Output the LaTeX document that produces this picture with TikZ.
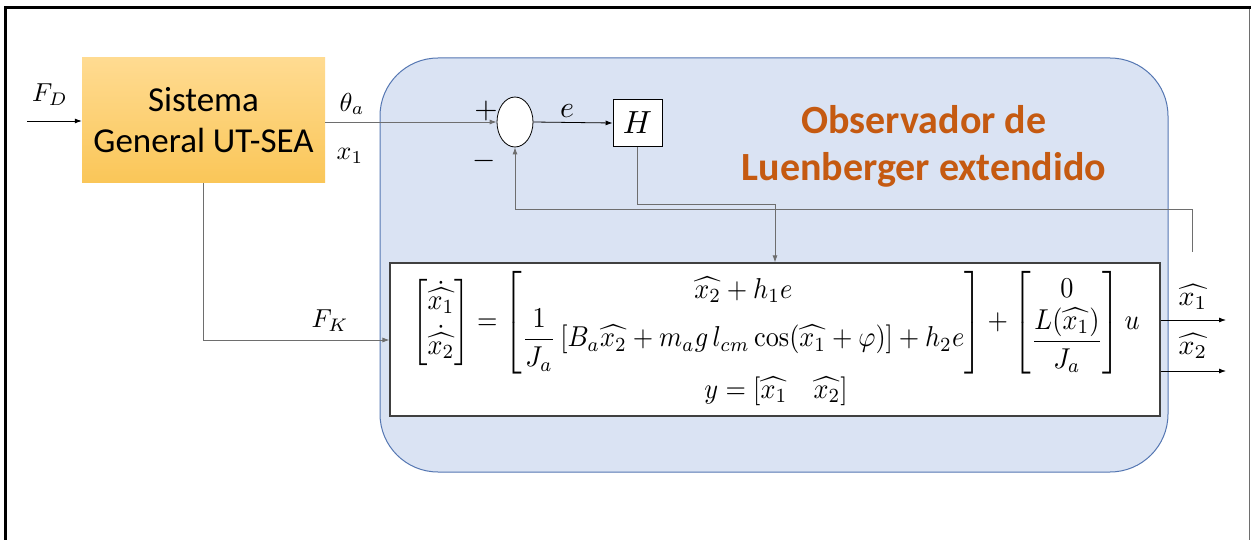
\documentclass[tikz,border=0pt]{standalone}
\usepackage{amsmath}
\usepackage{fontspec}
\newfontfamily\carlito{Carlito}
\usetikzlibrary{arrows.meta,shapes.geometric}
\newcommand{\mm}[2][2.6]{\scalebox{#1}{$#2$}}
\definecolor{ortop}{RGB}{255,219,145}
\definecolor{orbot}{RGB}{250,198,88}
\definecolor{obsfill}{RGB}{218,227,243}
\definecolor{obsdraw}{RGB}{84,118,178}
\definecolor{titlec}{RGB}{197,90,17}
\definecolor{lineg}{RGB}{110,110,110}
\begin{document}
\begin{tikzpicture}[x=1pt,y=-1pt,
  conn/.style={draw=lineg,line width=0.8pt},
  tip/.style={-{Latex[length=7pt,width=5pt]}},
  blk/.style={draw=black,line width=0.8pt},
  lbl/.style={inner sep=0pt}]
\useasboundingbox (0,0) rectangle (1251,540);
% frame
\draw[line width=3pt,black] (5,540) -- (5,8) -- (1251,8);
\draw[line width=0.8pt,lineg] (1249,9) -- (1249,540);
% observer area
\node[draw=obsdraw,line width=1pt,fill=obsfill,rounded corners=58pt,
  minimum width=788pt,minimum height=414pt,inner sep=0pt] (obs) at (774,265) {};
% system block
\node[top color=ortop,bottom color=orbot,draw=none,minimum width=243pt,minimum height=125pt,
  inner sep=0pt,align=center,font=\carlito\fontsize{35}{41}\selectfont] (sys) at (203.5,120.5)
  {Sistema\\General UT-SEA};
% title
\node[align=center,text=titlec,font=\carlito\bfseries\fontsize{40}{47}\selectfont] (title) at (924,146)
  {Observador de\\Luenberger extendido};
% summing junction
\node[ellipse,draw=black,fill=white,line width=0.8pt,minimum width=36pt,minimum height=50pt,inner sep=0pt] (sum) at (515,122) {};
% H block
\node[draw=black,fill=white,line width=0.8pt,minimum width=49pt,minimum height=47pt,inner sep=0pt] (H) at (637.5,123) {\mm[3.2]{H}};
% equation box
\node[draw=black!75,fill=white,line width=1.2pt,minimum width=770pt,minimum height=153pt,inner sep=0pt] (eqbox) at (775,339.5) {};
\node[inner sep=0pt] (eq) at (776,340) {\resizebox*{727pt}{138pt}{$\begin{array}{@{}c@{}}
\displaystyle\begin{bmatrix}\dot{\widehat{x_1}}\\[2pt] \dot{\widehat{x_2}}\end{bmatrix}
=\begin{bmatrix}\widehat{x_2}+h_1e\\ \dfrac{1}{J_a}\left[B_a\widehat{x_2}+m_a g\, l_{cm}\cos(\widehat{x_1}+\varphi)\right]+h_2e\end{bmatrix}
+\begin{bmatrix}0\\ \dfrac{L(\widehat{x_1})}{J_a}\end{bmatrix}u\\[1pt]
y=[\widehat{x_1}\quad \widehat{x_2}]
\end{array}$}};
% labels
\node[lbl] (fd) at (50,95) {\mm{F_D}};
\node[lbl] (tha) at (352,104) {\mm{\theta_a}};
\node[lbl] (x1) at (350,156) {\mm{x_1}};
\node[lbl] (elbl) at (567,111) {\mm[3]{e}};
\node[lbl] (plus) at (486,111) {\mm[3]{+}};
\node[lbl] (minus) at (484,161) {\mm[3]{-}};
\node[lbl] (fk) at (330,321) {\mm{F_K}};
\node[lbl] (xh1) at (1193,297) {\mm[2.8]{\widehat{x_1}}};
\node[lbl] (xh2) at (1193,346) {\mm[2.8]{\widehat{x_2}}};
% coordinates
\coordinate (fdin) at (27,121);
\coordinate (hk) at (775,204);
\coordinate (fb) at (1192,252);
\coordinate (fbc) at (1192,209);
\coordinate (fkc) at (204,340);
\coordinate (o1) at (1226,320);
\coordinate (o2) at (1226,371);
% connectors
\draw[conn,tip,draw=black] (fdin) -- (fdin -| sys.west);
\draw[conn,tip] (sum.west -| sys.east) -- (sum.west);
\draw[blk,tip] (sum.east) -- (H.west);
\draw[conn,tip] (H.south) |- (hk) -- (hk |- eqbox.north);
\draw[conn,tip] (fb) -- (fbc) -| (sum.south);
\draw[conn,tip] (sys.south) |- (fkc -| eqbox.west);
\draw[blk,tip] (o1 -| eqbox.east) -- (o1);
\draw[blk,tip] (o2 -| eqbox.east) -- (o2);
\end{tikzpicture}
\end{document}
